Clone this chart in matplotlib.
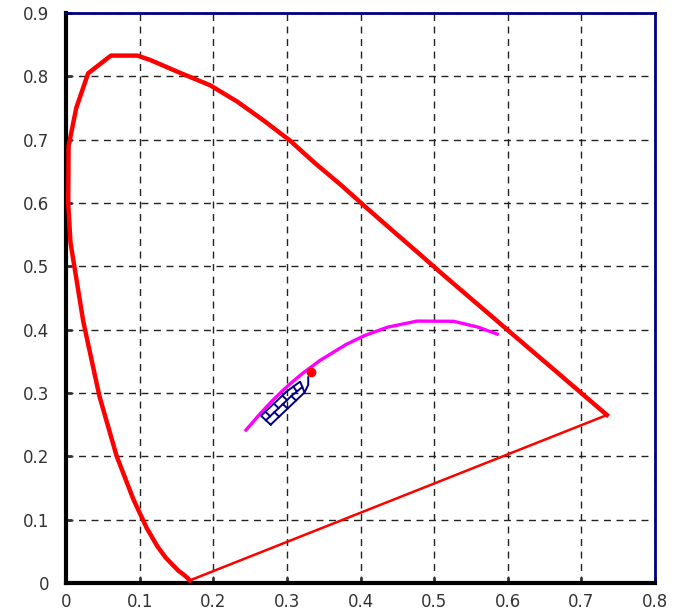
import matplotlib
matplotlib.use("Agg")
import matplotlib.pyplot as plt
from matplotlib.ticker import FuncFormatter, MultipleLocator

# ==========================================================
# DATA
# ==========================================================

# spectral locus (CIE 1931 xy), violet end -> red end
locus_x = [0.1680, 0.1650, 0.1600, 0.1520, 0.1440, 0.1355, 0.1241, 0.1096,
           0.0913, 0.0687, 0.0454, 0.0235, 0.0060, 0.0030, 0.0035, 0.0139,
           0.0300, 0.0610, 0.0970, 0.1142, 0.1547, 0.1960, 0.2330, 0.2690,
           0.3040, 0.3373, 0.3731, 0.4087, 0.4441, 0.4788, 0.5125, 0.5448,
           0.5752, 0.6029, 0.6270, 0.6482, 0.6658, 0.6801, 0.6915, 0.7006,
           0.7079, 0.7140, 0.7190, 0.7230, 0.7260, 0.7300, 0.7347]
locus_y = [0.0040, 0.0080, 0.0130, 0.0200, 0.0297, 0.0399, 0.0578, 0.0868,
           0.1327, 0.2007, 0.2950, 0.4127, 0.5384, 0.6000, 0.6900, 0.7502,
           0.8050, 0.8330, 0.8330, 0.8262, 0.8059, 0.7860, 0.7600, 0.7300,
           0.6990, 0.6640, 0.6290, 0.5920, 0.5560, 0.5210, 0.4866, 0.4544,
           0.4242, 0.3965, 0.3725, 0.3514, 0.3340, 0.3197, 0.3083, 0.2993,
           0.2920, 0.2859, 0.2809, 0.2770, 0.2740, 0.2700, 0.2653]

# planckian locus, hot -> cold
planck_x = [0.2445, 0.2565, 0.2637, 0.2807, 0.2952, 0.3064, 0.3221, 0.3451,
            0.3805, 0.4053, 0.4369, 0.4770, 0.5267, 0.5600, 0.5857]
planck_y = [0.2416, 0.2577, 0.2674, 0.2884, 0.3048, 0.3166, 0.3318, 0.3516,
            0.3768, 0.3907, 0.4041, 0.4137, 0.4133, 0.4040, 0.3931]

# equal energy point
white_x = 0.333
white_y = 0.333

# binning strip: lower edge, middle line and upper edge stations
bin_low_x = [0.278, 0.2895, 0.301, 0.3125, 0.324]
bin_low_y = [0.250, 0.2628, 0.2755, 0.2883, 0.301]
bin_mid_x = [0.2715, 0.283, 0.2945, 0.306, 0.321]
bin_mid_y = [0.257, 0.2698, 0.2825, 0.2953, 0.3095]
bin_up_x = [0.265, 0.2765, 0.288, 0.2995, 0.318]
bin_up_y = [0.264, 0.2768, 0.2895, 0.3023, 0.318]
# staggered dividers of the upper row
bin_half_mid_x = [0.2773, 0.2888, 0.3003, 0.3135]
bin_half_mid_y = [0.2634, 0.2762, 0.2889, 0.3024]
bin_half_up_x = [0.2708, 0.2823, 0.2938, 0.3088]
bin_half_up_y = [0.2704, 0.2832, 0.2959, 0.3102]
hook_x = [0.324, 0.329, 0.329]
hook_y = [0.301, 0.313, 0.325]

# ==========================================================
# PLOT
# ==========================================================

navy = "#000080"

fig = plt.figure(figsize=(6.77, 6.16), dpi=100)
ax = fig.add_axes([0.0975, 0.0536, 0.870, 0.925])

ax.plot(locus_x, locus_y, color="red", lw=3.2, solid_joinstyle="round", zorder=3)
ax.plot([locus_x[-1], locus_x[0]], [locus_y[-1], locus_y[0]],
        color="red", lw=1.8, zorder=3)

ax.plot(planck_x, planck_y, color="magenta", lw=2.4, zorder=3)

# bin outline
ax.plot(bin_low_x + bin_up_x[::-1] + bin_low_x[:1],
        bin_low_y + bin_up_y[::-1] + bin_low_y[:1],
        color=navy, lw=1.4, zorder=4)
ax.plot(bin_mid_x, bin_mid_y, color=navy, lw=1.4, zorder=4)
for x0, y0, x1, y1 in zip(bin_low_x[1:-1], bin_low_y[1:-1],
                          bin_mid_x[1:-1], bin_mid_y[1:-1]):
    ax.plot([x0, x1], [y0, y1], color=navy, lw=1.4, zorder=4)
for x0, y0, x1, y1 in zip(bin_half_mid_x, bin_half_mid_y,
                          bin_half_up_x, bin_half_up_y):
    ax.plot([x0, x1], [y0, y1], color=navy, lw=1.4, zorder=4)
ax.plot(hook_x, hook_y, color=navy, lw=1.4, zorder=4)

ax.plot(white_x, white_y, "o", color="red", ms=6, zorder=5)

ax.set_xlim(0, 0.8)
ax.set_ylim(0, 0.9)
ax.xaxis.set_major_locator(MultipleLocator(0.1))
ax.yaxis.set_major_locator(MultipleLocator(0.1))
fmt = FuncFormatter(lambda v, p: "0" if abs(v) < 1e-9 else f"{v:.1f}")
ax.xaxis.set_major_formatter(fmt)
ax.yaxis.set_major_formatter(fmt)

ax.grid(True, color="#222222", linestyle=(0, (5, 4)), lw=1.0)

ax.spines["left"].set_linewidth(3)
ax.spines["bottom"].set_linewidth(3)
ax.spines["left"].set_color("black")
ax.spines["bottom"].set_color("black")
ax.spines["top"].set_color(navy)
ax.spines["right"].set_color(navy)
ax.spines["top"].set_linewidth(2)
ax.spines["right"].set_linewidth(2)

ax.tick_params(direction="in", length=4, width=2, labelsize=12,
               colors="#333333")
ax.tick_params(axis="x", pad=7)
ax.tick_params(axis="y", pad=12)

fig.savefig("out.png", dpi=100)
plt.close(fig)
